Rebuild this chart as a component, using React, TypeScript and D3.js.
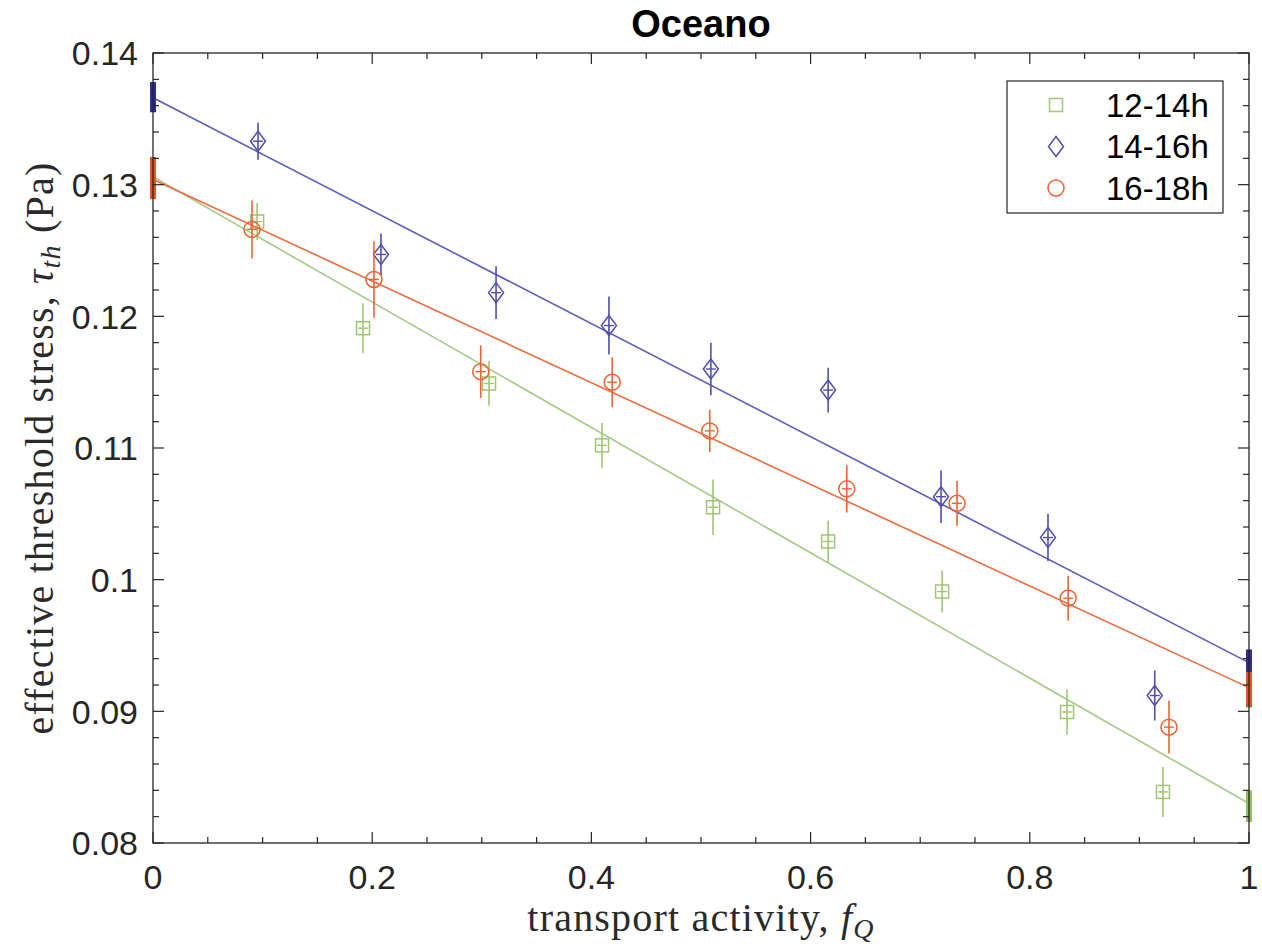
import React from "react";
import * as d3 from "d3";

// series labels
const series = ["12-14h", "14-16h", "16-18h"];

// 12-14h (green squares)
const greenX = [0.095, 0.1916, 0.3066, 0.4097, 0.511, 0.616, 0.72, 0.834, 0.9215];
const greenY = [0.1272, 0.1191, 0.1149, 0.1102, 0.1055, 0.1029, 0.0991, 0.08995, 0.08388];
const greenErr = [0.0014, 0.0019, 0.0017, 0.0017, 0.0021, 0.0016, 0.0016, 0.0017, 0.0019];

// 14-16h (blue diamonds)
const blueX = [0.0958, 0.208, 0.313, 0.416, 0.509, 0.616, 0.719, 0.8166, 0.914];
const blueY = [0.1333, 0.1247, 0.1218, 0.1193, 0.116, 0.1144, 0.1063, 0.1032, 0.0912];
const blueErr = [0.0014, 0.0016, 0.002, 0.0022, 0.002, 0.0017, 0.002, 0.0018, 0.0019];

// 16-18h (orange circles)
const orangeX = [0.0903, 0.2016, 0.299, 0.419, 0.508, 0.633, 0.7336, 0.835, 0.927];
const orangeY = [0.1266, 0.1228, 0.1158, 0.115, 0.1113, 0.1069, 0.1058, 0.0986, 0.0888];
const orangeErr = [0.0022, 0.0029, 0.002, 0.0019, 0.0016, 0.0018, 0.0017, 0.0017, 0.002];

// linear fits: value at f=0 and f=1
const greenFit = [0.1306, 0.083];
const blueFit = [0.1366, 0.0937];
const orangeFit = [0.1304, 0.0918];

// uncertainty of fit ends [lo, hi] at f=0 and f=1
const greenEnds = [[0.1294, 0.1318], [0.0816, 0.084]];
const blueEnds = [[0.1355, 0.1378], [0.0926, 0.0947]];
const orangeEnds = [[0.1289, 0.1321], [0.0903, 0.093]];

const xTicks = [0, 0.2, 0.4, 0.6, 0.8, 1];
const xTickLabels = ["0", "0.2", "0.4", "0.6", "0.8", "1"];
const yTicks = [0.08, 0.09, 0.1, 0.11, 0.12, 0.13, 0.14];
const yTickLabels = ["0.08", "0.09", "0.1", "0.11", "0.12", "0.13", "0.14"];

const W = 1262;
const H = 951;
const left = 153, right = 1249, top = 53, bottom = 843;
const axisColor = "#262626";

const x = d3.scaleLinear().domain([0, 1]).range([left, right]);
const y = d3.scaleLinear().domain([0.08, 0.14]).range([bottom, top]);

const groups = [
  { name: series[0], xs: greenX, ys: greenY, err: greenErr, fit: greenFit, ends: greenEnds, shape: "square", mark: "#a0c574", line: "#a8c987", bar: "#93c15c" },
  { name: series[1], xs: blueX, ys: blueY, err: blueErr, fit: blueFit, ends: blueEnds, shape: "diamond", mark: "#4f4fb0", line: "#5c5cba", bar: "#2d2d9c" },
  { name: series[2], xs: orangeX, ys: orangeY, err: orangeErr, fit: orangeFit, ends: orangeEnds, shape: "circle", mark: "#ef6332", line: "#ef6b3e", bar: "#e6561c" },
];

function Marker({ shape, cx, cy, color }) {
  if (shape === "square") {
    return <rect x={cx - 6.5} y={cy - 6.5} width={13} height={13} fill="none" stroke={color} strokeWidth={1.5} />;
  }
  if (shape === "diamond") {
    return (
      <path
        d={`M${cx},${cy - 10}L${cx + 7.5},${cy}L${cx},${cy + 10}L${cx - 7.5},${cy}Z`}
        fill="none"
        stroke={color}
        strokeWidth={1.5}
      />
    );
  }
  return <circle cx={cx} cy={cy} r={8} fill="none" stroke={color} strokeWidth={1.5} />;
}

export default function App() {
  const minorX = d3.range(0, 1.0001, 0.05).filter((v) => !xTicks.some((t) => Math.abs(t - v) < 1e-6));
  const minorY = d3.range(0.08, 0.14001, 0.002).filter((v) => !yTicks.some((t) => Math.abs(t - v) < 1e-6));
  const serif = "'Liberation Serif', 'Times New Roman', serif";
  const sans = "'Liberation Sans', Arial, sans-serif";

  return (
    <svg width={W} height={H} style={{ position: "absolute", left: 0, top: 0, background: "#fff" }}>
      <rect x={0} y={0} width={W} height={H} fill="#fff" />

      {/* fit lines, data points with error bars */}
      {groups.map((g) => (
        <g key={g.name}>
          <line x1={x(0)} y1={y(g.fit[0])} x2={x(1)} y2={y(g.fit[1])} stroke={g.line} strokeWidth={1.6} />
          {g.xs.map((xv, i) => {
            const cx = x(xv);
            const cy = y(g.ys[i]);
            return (
              <g key={i}>
                <line x1={cx} x2={cx} y1={y(g.ys[i] - g.err[i])} y2={y(g.ys[i] + g.err[i])} stroke={g.mark} strokeWidth={1.6} />
                <line x1={cx - 5} x2={cx + 5} y1={cy} y2={cy} stroke={g.mark} strokeWidth={1.4} />
                <Marker shape={g.shape} cx={cx} cy={cy} color={g.mark} />
              </g>
            );
          })}
        </g>
      ))}
      {/* intercept uncertainty bars */}
      {groups.map((g) => (
        <g key={g.name + "-ends"}>
          <line x1={x(0)} x2={x(0)} y1={y(g.ends[0][0])} y2={y(g.ends[0][1])} stroke={g.bar} strokeWidth={6} />
          <line x1={x(1)} x2={x(1)} y1={y(g.ends[1][0])} y2={y(g.ends[1][1])} stroke={g.bar} strokeWidth={6} />
        </g>
      ))}

      {/* axes box */}
      <rect x={left} y={top} width={right - left} height={bottom - top} fill="none" stroke={axisColor} strokeWidth={1.3} />

      {/* x ticks */}
      {xTicks.map((t) => (
        <g key={"xt" + t}>
          <line x1={x(t)} x2={x(t)} y1={bottom} y2={bottom - 11} stroke={axisColor} strokeWidth={1.2} />
          <line x1={x(t)} x2={x(t)} y1={top} y2={top + 11} stroke={axisColor} strokeWidth={1.2} />
        </g>
      ))}
      {minorX.map((t) => (
        <g key={"xm" + t}>
          <line x1={x(t)} x2={x(t)} y1={bottom} y2={bottom - 6} stroke={axisColor} strokeWidth={1.2} />
          <line x1={x(t)} x2={x(t)} y1={top} y2={top + 6} stroke={axisColor} strokeWidth={1.2} />
        </g>
      ))}
      {/* y ticks */}
      {yTicks.map((t) => (
        <g key={"yt" + t}>
          <line x1={left} x2={left + 11} y1={y(t)} y2={y(t)} stroke={axisColor} strokeWidth={1.2} />
          <line x1={right} x2={right - 11} y1={y(t)} y2={y(t)} stroke={axisColor} strokeWidth={1.2} />
        </g>
      ))}
      {minorY.map((t) => (
        <g key={"ym" + t}>
          <line x1={left} x2={left + 6} y1={y(t)} y2={y(t)} stroke={axisColor} strokeWidth={1.2} />
          <line x1={right} x2={right - 6} y1={y(t)} y2={y(t)} stroke={axisColor} strokeWidth={1.2} />
        </g>
      ))}

      {/* tick labels */}
      <g fontFamily={sans} fontSize={34} fill={axisColor}>
        {xTicks.map((t, i) => (
          <text key={"xl" + t} x={x(t)} y={889} textAnchor="middle">
            {xTickLabels[i]}
          </text>
        ))}
        {yTicks.map((t, i) => (
          <text key={"yl" + t} x={138} y={y(t)} dy="0.36em" textAnchor="end">
            {yTickLabels[i]}
          </text>
        ))}
      </g>

      {/* title */}
      <text x={(left + right) / 2} y={37} textAnchor="middle" fontFamily={sans} fontWeight="bold" fontSize={38} fill="#000">
        Oceano
      </text>

      {/* axis labels */}
      <text x={(left + right) / 2} y={931} textAnchor="middle" fontFamily={serif} fontSize={40} letterSpacing={1.2} fill="#2a2a2a">
        transport activity, <tspan fontStyle="italic">f</tspan>
        <tspan fontStyle="italic" fontSize={28} dy={7}>Q</tspan>
      </text>
      <text
        transform={`translate(53, ${(top + bottom) / 2}) rotate(-90)`}
        textAnchor="middle"
        fontFamily={serif}
        fontSize={40}
        letterSpacing={1.2}
        fill="#2a2a2a"
      >
        effective threshold stress, <tspan fontStyle="italic">τ</tspan>
        <tspan fontStyle="italic" fontSize={28} dy={7}>th</tspan>
        <tspan dy={-7}> (Pa)</tspan>
      </text>

      {/* legend */}
      <g>
        <rect x={1007} y={81} width={216} height={132} fill="#fff" stroke={axisColor} strokeWidth={1.2} />
        {groups.map((g, i) => {
          const ly = 105 + i * 41.5;
          return (
            <g key={"lg" + g.name}>
              <Marker shape={g.shape} cx={1056} cy={ly} color={g.mark} />
              <text x={1106} y={ly} dy="0.36em" fontFamily={sans} fontSize={33} fill="#000">
                {g.name}
              </text>
            </g>
          );
        })}
      </g>
    </svg>
  );
}
